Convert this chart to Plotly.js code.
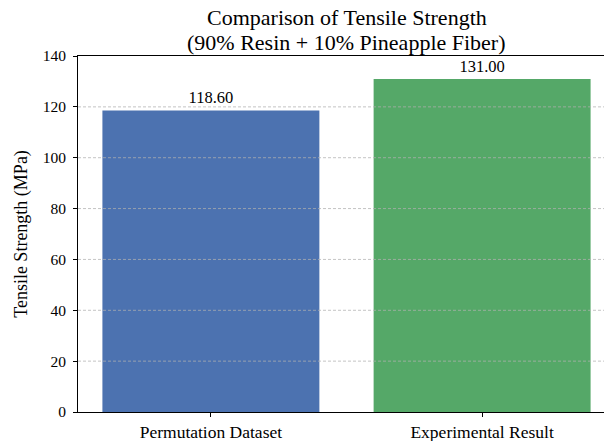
<!DOCTYPE html>
<html>
<head>
<meta charset="utf-8">
<script src="https://cdn.plot.ly/plotly-3.0.1.min.js"></script>
<style>
html,body{margin:0;padding:0;overflow:hidden;background:#fff;}
#chart{width:620px;height:441px;}
</style>
</head>
<body>
<div id="chart"></div>
<script>
const categories = ["Permutation Dataset", "Experimental Result"];
const strengths = [118.60, 131.00];
const barColors = ["#4c72b0", "#55a868"];
const yTicks = [0, 20, 40, 60, 80, 100, 120, 140];
const titleLines = ["Comparison of Tensile Strength", "(90% Resin + 10% Pineapple Fiber)"];

const font = "'Liberation Serif', 'Times New Roman', serif";

const trace = {
  type: "bar",
  x: [0, 1],
  y: strengths,
  width: 0.8,
  marker: {color: barColors, line: {width: 0}},
  text: strengths.map(v => v.toFixed(2)),
  textposition: "outside",
  textfont: {family: font, size: 16.5, color: "#000"},
  cliponaxis: false,
  hoverinfo: "none"
};

const gridShapes = yTicks.filter(v => v > 0 && v < 140).map(v => ({
  type: "line", xref: "paper", x0: 0, x1: 1, yref: "y", y0: v, y1: v,
  line: {color: "rgba(176,176,176,0.75)", width: 1, dash: "3px,2px"},
  layer: "above"
}));

const titleAnns = titleLines.map((t, i) => ({
  text: t, xref: "paper", yref: "paper", x: 0.5, y: 1,
  xanchor: "center", yanchor: "middle", yshift: i === 0 ? 38.5 : 13.5,
  showarrow: false, font: {family: font, size: 22, color: "#000"}
}));

const layout = {
  width: 620, height: 441,
  margin: {l: 78, r: 5, t: 56, b: 29},
  paper_bgcolor: "#fff", plot_bgcolor: "#fff",
  showlegend: false,
  font: {family: font, color: "#000"},
  xaxis: {
    range: [-0.49, 1.49],
    tickvals: [0, 1], ticktext: categories,
    ticks: "outside", ticklen: 4, tickcolor: "#000", tickwidth: 1,
    showline: true, linecolor: "#000", linewidth: 1, mirror: true,
    showgrid: false, zeroline: false,
    tickfont: {family: font, size: 17.5, color: "#000"}
  },
  yaxis: {
    range: [0, 140],
    tickvals: yTicks,
    ticks: "outside", ticklen: 4, tickcolor: "#000", tickwidth: 1,
    ticklabelstandoff: 4,
    showline: true, linecolor: "#000", linewidth: 1, mirror: true,
    showgrid: false, zeroline: false,
    tickfont: {family: font, size: 15.5, color: "#000"},
    title: {text: "Tensile Strength (MPa)", font: {family: font, size: 18, color: "#000"}, standoff: 10}
  },
  annotations: titleAnns,
  shapes: gridShapes
};

Plotly.newPlot("chart", [trace], layout, {displayModeBar: false, staticPlot: true});
</script>
</body>
</html>
